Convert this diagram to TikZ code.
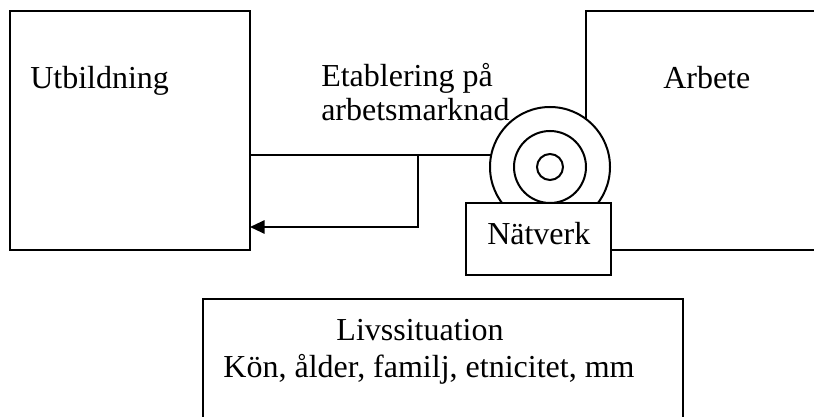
\documentclass[tikz,border=0pt]{standalone}
\usepackage{fontspec}
\setmainfont{Liberation Serif}
\usetikzlibrary{arrows.meta}
\tikzset{
  px/.style={x=0.75pt,y=-0.75pt},
  boxline/.style={draw=black,line width=1.5pt},
  frame/.style={boxline,fill=white,inner sep=0pt,outer sep=0pt},
  lbl/.style={font=\fontsize{24pt}{27pt}\selectfont,inner sep=0pt,anchor=base west},
  conn/.style={line width=1.5pt},
}
\begin{document}
\begin{tikzpicture}[px]
\useasboundingbox (0,0) rectangle (814,417);
\clip (0,0) rectangle (814,417);
% Utbildning box
\node[frame,minimum width=240*0.75pt,minimum height=239*0.75pt,anchor=north west] (utb) at (10,11) {};
\node[lbl] (utbt) at (30,89) {Utbildning};
% Arbete box
\node[frame,minimum width=260*0.75pt,minimum height=239*0.75pt,anchor=north west] (arb) at (586,11) {};
\node[lbl] (arbt) at (663,89) {Arbete};
% Livssituation box
\node[frame,minimum width=480*0.75pt,minimum height=140*0.75pt,anchor=north west] (liv) at (203,299) {};
\node[lbl,anchor=base] (livt1) at (420,340) {Livssituation};
\node[lbl,anchor=base] (livt2) at (429,377) {Kön, ålder, familj, etnicitet, mm};
% Etablering text
\node[lbl] (etab1) at (321,87) {Etablering på};
\node[lbl] (etab2) at (321,121) {arbetsmarknad};
% connectors
\coordinate (j) at (418,155);
\coordinate (k) at (418,227);
\coordinate (rc) at (550,167);
\draw[conn] (j -| utb.east) -- (j -| rc);
\draw[conn,-{Triangle[length=11pt,width=10pt]}] (j) -- (k) -- (k -| utb.east);
% rings
\node[frame,circle,minimum size=120*0.75pt] (ring) at (rc) {};
\node[boxline,circle,inner sep=0pt,minimum size=72*0.75pt] (ring2) at (rc) {};
\node[boxline,circle,inner sep=0pt,minimum size=26*0.75pt] (ring3) at (rc) {};
% Natverk box
\node[frame,minimum width=145*0.75pt,minimum height=72*0.75pt,anchor=north west] (nat) at (466,203) {};
\node[lbl] (natt) at (487,244) {Nätverk};
\end{tikzpicture}
\end{document}
